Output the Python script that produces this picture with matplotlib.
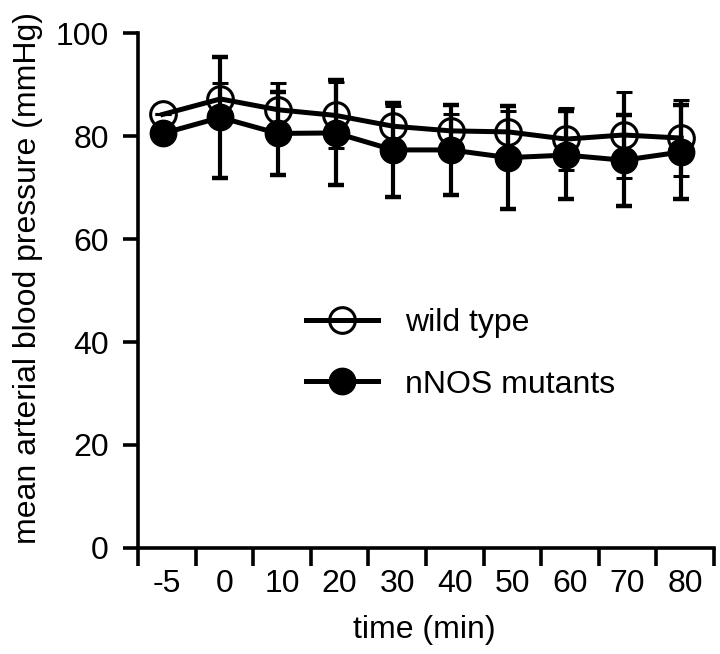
import matplotlib
matplotlib.use("Agg")
import matplotlib.pyplot as plt
from matplotlib.lines import Line2D
import numpy as np

plt.rcParams['font.family'] = ['Liberation Sans', 'DejaVu Sans']

# data
times = ['-5', '0', '10', '20', '30', '40', '50', '60', '70', '80']
wt_mean = [84.2, 87.2, 85.1, 84.0, 81.9, 81.0, 80.8, 79.4, 80.2, 79.6]
wt_err = [0.0, 3.0, 5.1, 6.4, 4.0, 3.2, 4.1, 6.0, 8.3, 7.3]
mut_mean = [80.5, 83.6, 80.5, 80.6, 77.3, 77.3, 75.8, 76.3, 75.3, 76.9]
mut_err = [0.0, 11.8, 8.0, 10.2, 9.1, 8.8, 10.0, 8.6, 8.8, 9.2]

fs = 23
fig = plt.figure(figsize=(7.2, 6.54), dpi=100)
ax = fig.add_axes([0.1917, 0.1621, 0.8, 0.7874])

x = np.arange(len(times))

ax.errorbar(x, wt_mean, yerr=wt_err, color='black', lw=3.6, marker='o', ms=18.5,
            mfc='none', mec='black', mew=2.2, elinewidth=3, capsize=5.6, capthick=3.2,
            zorder=3, clip_on=False)
ax.errorbar(x, mut_mean, yerr=mut_err, color='black', lw=3.6, marker='o', ms=19,
            mfc='black', mec='black', elinewidth=3, capsize=5.6, capthick=3.2,
            zorder=4, clip_on=False)

ax.set_xlim(-0.43, 9.57)
ax.set_ylim(0, 100)

# ticks between the categories, labels centred on them
ax.set_xticks(np.arange(len(times) + 1) - 0.43)
ax.set_xticklabels([])
ax.set_xticks(x + 0.07, minor=True)
ax.set_xticklabels(times, minor=True, fontsize=fs)
ax.tick_params(axis='x', which='major', length=13, width=2.6, direction='out')
ax.tick_params(axis='x', which='minor', length=0, pad=15)

ax.set_yticks([0, 20, 40, 60, 80, 100])
ax.tick_params(axis='y', length=11, width=2.6, pad=10, labelsize=fs)

for s in ['top', 'right']:
    ax.spines[s].set_visible(False)
for s in ['left', 'bottom']:
    ax.spines[s].set_linewidth(2.6)

fig.text(28 / 720, 1 - 278 / 654, 'mean arterial blood pressure (mmHg)',
         rotation=90, ha='center', va='center', fontsize=fs)
fig.text(424 / 720, 1 - 630 / 654, 'time (min)', ha='center', va='center', fontsize=fs)

handles = [
    Line2D([], [], color='black', lw=3.6, marker='o', ms=18.5, mfc='none', mec='black', mew=2.2),
    Line2D([], [], color='black', lw=3.6, marker='o', ms=19, mfc='black', mec='black'),
]
ax.legend(handles, ['wild type', 'nNOS mutants'], frameon=False, fontsize=fs,
          loc='center left', bbox_to_anchor=(306 / 720, 1 - 354 / 654),
          bbox_transform=fig.transFigure, borderpad=0, borderaxespad=0,
          handlelength=2.26, handletextpad=0.85, labelspacing=0.98)

fig.savefig('out.png', dpi=100)
